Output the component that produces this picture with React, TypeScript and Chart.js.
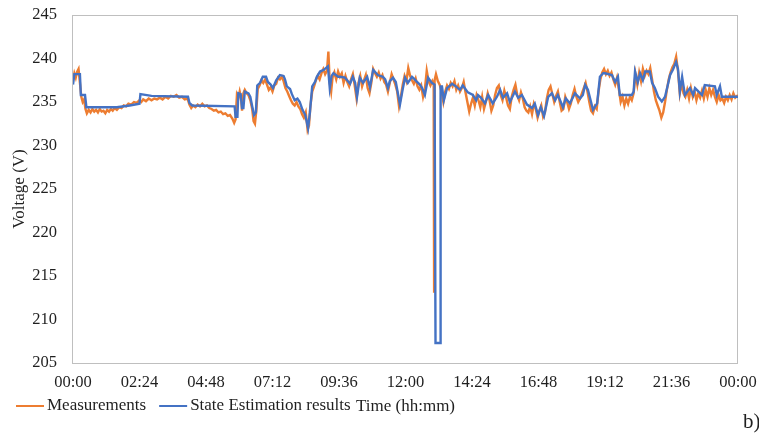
import React, { useEffect, useRef } from "react";
import { Chart, registerables } from "chart.js";

Chart.register(...registerables);

// Time in minutes since 00:00, voltage in V
const measTime = [
  0, 3, 6, 9, 12, 15, 18, 21, 24, 27, 30, 34, 38, 42, 46, 50, 54, 58, 62, 66, 70, 74, 78, 82, 86, 90, 95, 100,
  105, 110, 115, 120, 126, 132, 138, 144, 148, 152, 158, 164, 170, 176, 182, 188, 194, 200, 206, 212, 218, 224,
  230, 236, 242, 248, 252, 256, 260, 265, 270, 275, 280, 285, 290, 295, 300, 305, 310, 315, 320, 325, 330, 335,
  340, 345, 349, 352, 355, 358, 361, 364, 366, 369, 372, 376, 380, 384, 388, 391, 394, 397, 400, 404, 408, 412,
  416, 420, 424, 428, 432, 436, 440, 444, 448, 452, 456, 460, 464, 468, 472, 476, 480, 484, 488, 492, 496, 500,
  504, 508, 511, 514, 518, 522, 526, 530, 534, 538, 542, 546, 550, 553, 556, 559, 562, 566, 570, 574, 578, 582,
  586, 590, 594, 598, 602, 606, 610, 614, 618, 622, 626, 630, 634, 638, 642, 646, 650, 654, 658, 662, 666, 670,
  674, 678, 682, 686, 690, 694, 698, 702, 706, 710, 714, 718, 722, 726, 730, 734, 738, 742, 746, 750, 754, 758,
  762, 766, 770, 774, 778, 781, 782, 783, 786, 790, 794, 798, 802, 806, 810, 814, 818, 822, 826, 830, 834, 838,
  842, 846, 850, 854, 858, 862, 866, 870, 874, 878, 882, 886, 890, 894, 898, 902, 906, 910, 914, 918, 922, 926,
  930, 934, 938, 942, 946, 950, 954, 958, 962, 966, 970, 974, 978, 982, 986, 990, 994, 998, 1002, 1006, 1010,
  1014, 1018, 1022, 1026, 1030, 1034, 1038, 1042, 1046, 1050, 1054, 1058, 1062, 1066, 1070, 1074, 1078, 1082,
  1086, 1090, 1094, 1098, 1102, 1106, 1110, 1114, 1118, 1122, 1126, 1130, 1134, 1138, 1142, 1146, 1150, 1154,
  1158, 1162, 1166, 1170, 1174, 1178, 1182, 1186, 1190, 1194, 1198, 1202, 1206, 1210, 1214, 1218, 1222, 1226,
  1230, 1234, 1238, 1242, 1246, 1250, 1254, 1258, 1262, 1266, 1270, 1274, 1278, 1282, 1286, 1290, 1294, 1298,
  1302, 1306, 1310, 1314, 1318, 1322, 1326, 1330, 1334, 1338, 1342, 1346, 1350, 1354, 1358, 1362, 1366, 1370,
  1374, 1378, 1382, 1386, 1390, 1394, 1398, 1402, 1406, 1410, 1414, 1418, 1422, 1426, 1430, 1434, 1440,
];

const measVolt = [
  237.5, 238.3, 237.8, 238.5, 238.8, 237.2, 235.6, 235.0, 235.3, 234.2, 233.7, 234.1, 233.8, 234.2, 233.9, 234.1,
  233.8, 234.2, 233.9, 234.0, 233.7, 234.1, 233.9, 234.2, 234.0, 234.3, 234.1, 234.4, 234.3, 234.6, 234.5, 234.8,
  234.7, 235.0, 234.9, 235.2, 235.0, 235.3, 235.1, 235.4, 235.2, 235.4, 235.3, 235.5, 235.3, 235.6, 235.4, 235.7,
  235.6, 235.8, 235.5, 235.6, 235.3, 235.4, 234.7, 234.3, 234.6, 234.4, 234.7, 234.5, 234.8, 234.5, 234.6, 234.3,
  234.2, 234.0, 234.1, 233.8, 233.9, 233.6, 233.7, 233.4, 233.5, 233.1, 232.6, 233.0, 235.8, 235.4, 236.2, 235.5,
  234.0, 236.0, 236.4, 236.0, 235.8, 235.2, 234.2, 232.8, 232.5, 234.0, 236.5, 236.9, 237.5, 237.2, 237.6, 237.0,
  236.4, 236.7, 236.2, 236.9, 237.1, 237.8, 237.6, 237.9, 237.4, 236.6, 236.2, 235.7, 235.2, 234.8, 234.6, 235.0,
  234.5, 234.2, 233.6, 233.2, 233.8, 231.8, 232.3, 234.5, 236.2, 236.8, 237.5, 238.0, 237.6, 238.3, 238.8, 238.2,
  238.6, 240.8, 237.2, 236.2, 237.8, 238.4, 237.6, 238.5, 237.9, 238.3, 237.2, 238.0, 237.3, 236.8, 237.6, 238.2,
  236.9, 235.4, 237.2, 238.0, 236.8, 237.5, 238.1, 236.6, 236.0, 237.2, 238.8, 238.3, 237.9, 238.4, 237.7, 238.1,
  237.3, 237.0, 236.2, 237.2, 238.2, 237.6, 237.0, 236.2, 234.5, 235.6, 237.0, 238.0, 237.4, 238.9, 238.0, 237.5,
  237.1, 237.7, 236.8, 236.4, 236.9, 235.6, 236.5, 238.6, 237.4, 236.9, 237.4, 237.0, 213.2, 237.5, 238.2, 237.4,
  237.0, 236.2, 235.0, 236.2, 236.9, 236.5, 237.2, 236.8, 237.4, 236.4, 236.9, 236.2, 236.6, 237.3, 236.1, 235.0,
  233.9, 234.8, 235.5, 234.6, 235.8, 235.2, 234.4, 235.6, 234.2, 235.0, 236.0, 235.2, 234.0, 234.6, 235.8, 236.6,
  236.9, 235.8, 235.2, 236.3, 235.5, 234.6, 234.2, 235.6, 236.4, 237.0, 235.8, 235.2, 236.1, 235.4, 234.4, 234.0,
  233.8, 234.5, 233.6, 234.8, 234.2, 233.2, 234.0, 234.6, 233.3, 233.8, 235.4, 236.4, 236.8, 235.9, 235.0, 235.7,
  236.2, 235.0, 234.0, 234.2, 235.6, 235.0, 234.2, 234.8, 235.8, 236.5, 235.6, 235.0, 235.4, 236.0, 236.6, 237.2,
  236.2, 235.0, 234.0, 233.7, 234.5, 234.2, 236.2, 237.6, 238.4, 238.8, 238.2, 238.6, 238.0, 238.4, 237.6, 237.0,
  237.8, 236.5, 235.0, 235.6, 234.6, 235.4, 234.8, 235.6, 235.2, 236.0, 238.2, 237.0, 238.4, 237.4, 238.8, 238.0,
  238.6, 238.2, 238.9, 237.6, 236.2, 235.2, 234.6, 234.0, 233.2, 233.8, 235.0, 236.4, 237.6, 238.4, 239.0, 239.4,
  240.2, 238.6, 236.0, 237.2, 236.0, 235.6, 236.4, 235.4, 236.6, 235.6, 236.2, 235.2, 236.0, 235.5, 236.3, 235.4,
  236.4, 235.6, 236.6, 235.8, 236.4, 235.6, 235.0, 235.8, 235.2, 235.4, 234.9, 235.6, 235.2, 235.8, 235.3, 236.0,
  235.5, 235.8,
];

const estTime = [
  0, 3, 15, 17, 26, 29, 95, 123, 144, 146, 170, 249, 252, 258, 350, 352, 356, 358, 363, 366, 369, 372, 380, 384,
  388, 392, 396, 399, 405, 411, 418, 422, 428, 433, 440, 448, 456, 459, 463, 470, 474, 480, 486, 491, 497, 503,
  509, 513, 518, 524, 528, 535, 543, 552, 556, 560, 564, 574, 578, 589, 600, 606, 611, 615, 621, 628, 637, 643,
  650, 660, 671, 676, 682, 686, 693, 699, 708, 714, 719, 725, 734, 740, 745, 751, 756, 762, 769, 777, 783, 785,
  795, 796, 799, 803, 810, 821, 829, 838, 844, 855, 866, 873, 877, 883, 892, 899, 909, 918, 925, 931, 940, 946,
  957, 964, 972, 983, 994, 1000, 1007, 1013, 1020, 1029, 1037, 1044, 1050, 1061, 1067, 1076, 1087, 1098, 1104,
  1109, 1115, 1126, 1135, 1141, 1148, 1152, 1167, 1174, 1180, 1184, 1210, 1214, 1217, 1223, 1228, 1234, 1239,
  1249, 1254, 1260, 1267, 1275, 1282, 1288, 1293, 1299, 1306, 1310, 1314, 1319, 1325, 1336, 1343, 1347, 1362,
  1368, 1390, 1394, 1401, 1405, 1440,
];

const estVolt = [
  237.0, 238.2, 238.2, 235.8, 235.8, 234.4, 234.4, 234.6, 234.8, 235.9, 235.7, 235.6, 234.9, 234.6, 234.5, 233.3,
  233.3, 236.0, 235.9, 234.3, 234.3, 236.2, 236.0, 235.6, 234.5, 233.5, 233.8, 236.9, 237.2, 237.9, 237.9, 237.3,
  237.0, 236.6, 237.5, 238.1, 238.0, 237.6, 236.8, 236.5, 235.9, 235.2, 235.4, 235.0, 234.1, 233.5, 232.0, 233.8,
  236.8, 237.3, 237.9, 238.5, 238.7, 239.1, 236.6, 238.0, 238.3, 237.9, 237.9, 237.8, 237.1, 237.9, 237.2, 235.6,
  237.8, 237.2, 237.9, 236.7, 238.7, 238.1, 237.9, 237.6, 236.6, 237.4, 237.8, 237.3, 234.7, 236.5, 237.8, 237.2,
  237.9, 237.6, 237.3, 237.0, 236.6, 235.8, 237.8, 237.2, 237.0, 207.3, 207.3, 236.8, 236.8, 235.2, 236.6, 237.1,
  236.8, 236.4, 236.9, 236.1, 235.8, 235.2, 235.8, 235.5, 234.85, 235.8, 234.85, 235.6, 236.4, 235.5, 236.0, 235.0,
  236.2, 235.5, 235.8, 234.7, 234.3, 234.8, 233.5, 234.4, 233.4, 235.6, 236.0, 235.2, 235.8, 234.4, 235.4, 234.85,
  236.0, 235.4, 235.8, 236.95, 236.4, 234.1, 234.85, 237.9, 238.3, 238.3, 238.1, 237.3, 237.9, 235.8, 235.8, 236.2,
  238.5, 237.3, 238.3, 237.5, 238.5, 238.5, 237.2, 236.6, 235.6, 235.05, 235.6, 236.95, 238.1, 238.7, 239.6, 238.8,
  236.2, 237.9, 235.8, 236.6, 235.8, 236.6, 235.8, 236.95, 236.8, 235.8, 236.8, 235.6, 235.6,
];

const xTickLabels = ["00:00", "02:24", "04:48", "07:12", "09:36", "12:00", "14:24", "16:48", "19:12", "21:36", "00:00"];

const seriesNames = ["Measurements", "State Estimation results"];
const seriesColors = ["#ED7D31", "#4472C4"];

const SERIF = '"Liberation Serif", "Times New Roman", serif';
const TEXT = "#1f1f1f";

const decorPlugin = {
  id: "decor",
  beforeDatasetsDraw(chart: any) {
    const { ctx, chartArea } = chart;
    const { left, top, right, bottom } = chartArea;
    ctx.save();
    ctx.strokeStyle = "#BFBFBF";
    ctx.lineWidth = 1;
    ctx.strokeRect(Math.round(left) - 0.5, Math.round(top) + 0.5, Math.round(right - left), Math.round(bottom - top));
    ctx.restore();
  },
  afterDraw(chart: any) {
    const { ctx, chartArea } = chart;
    ctx.save();
    ctx.font = `17px ${SERIF}`;
    ctx.textBaseline = "middle";
    ctx.textAlign = "left";
    const y = 406;
    let x = 16;
    chart.data.datasets.forEach((ds: any) => {
      ctx.strokeStyle = ds.borderColor;
      ctx.lineWidth = 2;
      ctx.beginPath();
      ctx.moveTo(x, y);
      ctx.lineTo(x + 28, y);
      ctx.stroke();
      ctx.fillStyle = TEXT;
      ctx.fillText(ds.label, x + 31, y);
      x += 31 + ctx.measureText(ds.label).width + 13;
    });
    ctx.textAlign = "center";
    ctx.fillText("Time (hh:mm)", (chartArea.left + chartArea.right) / 2, y + 1);
    ctx.font = `21px ${SERIF}`;
    ctx.textAlign = "left";
    ctx.textBaseline = "alphabetic";
    ctx.fillText("b)", 743, 428);
    ctx.restore();
  },
};

export default function App() {
  const ref = useRef<HTMLCanvasElement | null>(null);

  useEffect(() => {
    document.body.style.margin = "0";
    const canvas = ref.current;
    if (!canvas) return;
    const chart = new Chart(canvas, {
      type: "line",
      data: {
        datasets: [
          {
            label: seriesNames[0],
            data: measTime.map((t, i) => ({ x: t, y: measVolt[i] })),
            borderColor: seriesColors[0],
            backgroundColor: seriesColors[0],
            borderWidth: 2.4,
            pointRadius: 0,
            tension: 0,
            order: 1,
          },
          {
            label: seriesNames[1],
            data: estTime.map((t, i) => ({ x: t, y: estVolt[i] })),
            borderColor: seriesColors[1],
            backgroundColor: seriesColors[1],
            borderWidth: 2.4,
            pointRadius: 0,
            tension: 0,
            order: 0,
          },
        ],
      },
      options: {
        responsive: false,
        animation: false,
        layout: { padding: { top: 15, right: 21, bottom: 0, left: 0 } },
        plugins: {
          legend: { display: false },
          tooltip: { enabled: false },
        },
        scales: {
          x: {
            type: "linear",
            min: 0,
            max: 1440,
            afterFit: (s: any) => {
              s.height = 72;
              s.paddingLeft = 0;
              s.paddingRight = 0;
            },
            ticks: {
              stepSize: 144,
              autoSkip: false,
              maxRotation: 0,
              padding: 10,
              color: TEXT,
              font: { family: SERIF, size: 16.5 },
              callback: (_v: any, i: number) => xTickLabels[i],
            },
            grid: { display: false, drawTicks: false },
            border: { display: false },
            title: { display: false },
          },
          y: {
            min: 205,
            max: 245,
            afterFit: (s: any) => {
              s.width = 73;
              s.paddingTop = 0;
              s.paddingBottom = 0;
            },
            ticks: {
              stepSize: 5,
              padding: 16,
              color: TEXT,
              font: { family: SERIF, size: 16.5 },
            },
            grid: { display: false, drawTicks: false },
            border: { display: false },
            title: {
              display: true,
              text: "Voltage (V)",
              color: TEXT,
              font: { family: SERIF, size: 17 },
              padding: { top: 9, bottom: 0 },
            },
          },
        },
      },
      plugins: [decorPlugin],
    });
    return () => chart.destroy();
  }, []);

  return (
    <div style={{ position: "fixed", left: 0, top: 0, width: 759, height: 435, background: "#fff" }}>
      <canvas ref={ref} width={759} height={435} style={{ width: 759, height: 435, display: "block" }} />
    </div>
  );
}
